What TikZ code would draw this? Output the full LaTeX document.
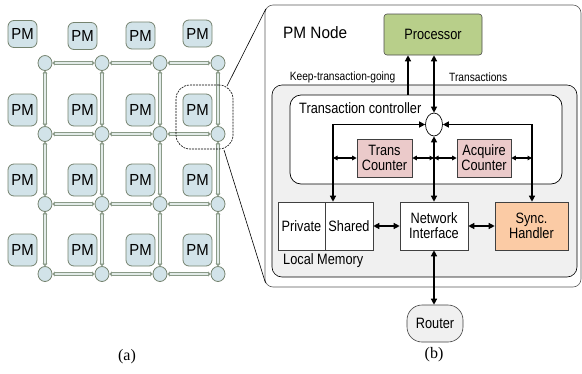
\documentclass[tikz,border=0pt]{standalone}
\usepackage{fontspec}
\setmainfont{Liberation Sans}
\newfontfamily\capfont{Liberation Serif}
\newfontfamily\condfont{Liberation Sans}[FakeStretch=0.85]
\newfontfamily\pmfont{Liberation Sans}[FakeStretch=0.93]
\usetikzlibrary{arrows.meta,shapes.geometric}
\definecolor{pmfill}{HTML}{D2E3E9}
\definecolor{pmdraw}{HTML}{75836F}
\definecolor{linkgray}{HTML}{8A9A88}
\definecolor{linkfill}{HTML}{E2EBE8}
\definecolor{procfill}{HTML}{B8CF8A}
\definecolor{cntfill}{HTML}{EBCACA}
\definecolor{syncfill}{HTML}{FBCBA5}
\definecolor{memgray}{HTML}{F0F0F0}
\begin{document}
\begin{tikzpicture}[x=1pt,y=-1pt,
  txt/.style={font=\condfont\fontsize{15}{15}\selectfont},
  pm/.style={draw=pmdraw,fill=pmfill,rounded corners=6pt,minimum width=29pt,minimum height=32pt,inner sep=0pt,font=\pmfont\fontsize{16}{16}\selectfont,line width=0.8pt},
  rtr/.style={ellipse,draw=pmdraw,fill=pmfill,minimum width=14pt,minimum height=15pt,inner sep=0pt,line width=0.8pt},
  link/.style={draw=linkgray,double=linkfill,double distance=1.8pt,line width=0.9pt,
    {Triangle[length=2.5pt,width=5pt]}-{Triangle[length=2.5pt,width=5pt]}},
  blk/.style={draw=black!75,rectangle,inner sep=0pt,align=center,txt,line width=0.6pt},
  arr/.style={line width=1.3pt,-{Triangle[length=6pt,width=6pt]}},
  darr/.style={line width=1.3pt,{Triangle[length=6pt,width=6pt]}-{Triangle[length=6pt,width=6pt]}},
  sarr/.style={line width=1.1pt,{Triangle[length=4.5pt,width=4.5pt]}-{Triangle[length=4.5pt,width=4.5pt]}},
  lab/.style={inner sep=0pt,font=\condfont\fontsize{12}{12}\selectfont}
]
\useasboundingbox (0,0) rectangle (582,373);

% ---------- (a) mesh ----------
\foreach \x [count=\i] in {45,102,160,218}
  \foreach \y [count=\j] in {63,134,204,274}
    \node[rtr] (r\i\j) at (\x,\y) {};
\foreach \i/\ii in {1/2,2/3,3/4}
  \foreach \j in {1,2,3,4}
    \draw[link] (r\i\j) -- (r\ii\j);
\foreach \i in {1,2,3,4}
  \foreach \j/\jj in {1/2,2/3,3/4}
    \draw[link] (r\i\j) -- (r\i\jj);

\node[pm,minimum height=27pt] (p11) at (22.5,34) {PM};
\node[pm,minimum height=27pt] (p21) at (82.5,36) {PM};
\node[pm,minimum height=27pt] (p31) at (140.5,35.5) {PM};
\node[pm,minimum height=27pt] (p41) at (197.5,33.5) {PM};
\foreach \x [count=\i] in {22.5,82.5,140.5,197.5}
  \foreach \y [count=\j from 2] in {110,180,250}
    \node[pm] (p\i\j) at (\x,\y) {PM};

\node[draw=black,dash pattern=on 2pt off 1pt,rounded corners=14pt,minimum width=57pt,minimum height=64pt,line width=0.6pt] (hl) at (204.5,117) {};
\node[font=\capfont\fontsize{16}{16}\selectfont,inner sep=0pt] (capa) at (127,357) {(a)};

% ---------- (b) PM node ----------
\node[draw=black!65,rounded corners=8pt,minimum width=316pt,minimum height=282pt,line width=0.6pt] (big) at (423,146) {};
\coordinate (hlA) at (227,86);
\coordinate (hlB) at (224,150);
\coordinate (bigA) at (265.8,9);
\coordinate (bigB) at (265.5,283);
\draw[line width=0.6pt] (hlA) -- (bigA);
\draw[line width=0.6pt] (hlB) -- (bigB);

\node[inner sep=0pt,anchor=west,font=\pmfont\fontsize{16.5}{17}\selectfont] (pmn) at (283,33) {PM Node};
\node[blk,fill=procfill,rounded corners=3pt,minimum width=98pt,minimum height=41pt,draw=black!70] (proc) at (433,34.5) {Processor};

\node[draw=black,fill=memgray,rounded corners=10pt,minimum width=305pt,minimum height=192pt,line width=0.6pt] (mem) at (424.5,181) {};
\node[draw=black,fill=white,rounded corners=11pt,minimum width=272pt,minimum height=89pt,line width=0.7pt] (tc) at (426,139.5) {};
\node[inner sep=0pt,anchor=west,txt] (tcl) at (299,108) {Transaction controller};
\node[inner sep=0pt,anchor=west,txt] (lml) at (283,261) {Local Memory};

\node[lab,anchor=east] (klab) at (395.5,77) {Keep-transaction-going};
\node[lab,anchor=west] (tlab) at (449,77) {Transactions};

\node[ellipse,draw=black,fill=white,minimum width=17pt,minimum height=23pt,inner sep=0pt,line width=0.7pt] (hub) at (434,124.5) {};

\node[blk,fill=cntfill,minimum width=55pt,minimum height=38pt] (trans) at (384.5,158) {Trans\\Counter};
\node[blk,fill=cntfill,minimum width=54pt,minimum height=38pt] (acq) at (484,158) {Acquire\\Counter};

\node[blk,fill=white,minimum width=47pt,minimum height=48pt] (priv) at (301.5,226) {Private};
\node[blk,fill=white,minimum width=48pt,minimum height=48pt] (shared) at (349,226) {Shared};
\node[blk,fill=white,minimum width=68pt,minimum height=48pt] (ni) at (434,226) {Network\\Interface};
\node[blk,fill=syncfill,minimum width=73pt,minimum height=48pt] (sync) at (531.5,226) {Sync.\\Handler};
\node[blk,fill=memgray,rounded corners=15pt,minimum width=56pt,minimum height=37pt] (router) at (435,323.5) {Router};

\coordinate (kx) at (408,0);
\coordinate (lc) at (333,124.5);
\coordinate (rc) at (532,124.5);
\coordinate (lm) at (333,158);
\coordinate (cm) at (434,158);
\coordinate (rm) at (532,158);

\draw[arr] (tc.north -| kx) -- (proc.south -| kx);
\draw[darr] (proc.south -| hub.north) -- (hub.north);
\draw[arr] (lc) -- (hub.west);
\draw[arr] (lc) -- (lc |- shared.north);
\draw[arr] (rc) -- (hub.east);
\draw[arr] (rc) -- (rc |- sync.north);
\draw[line width=1.3pt] ([xshift=-0.65pt]lc) -- ([xshift=0.6pt]lc);
\draw[line width=1.3pt] ([xshift=-0.6pt]rc) -- ([xshift=0.65pt]rc);
\draw[darr] (hub.south) -- (ni.north);
\draw[sarr] (lm) -- (trans.west);
\draw[sarr] (trans.east) -- (cm);
\draw[sarr] (cm) -- (acq.west);
\draw[sarr] (acq.east) -- (rm);
\draw[darr] (shared.east) -- (ni.west);
\draw[darr] (ni.east) -- (sync.west);
\draw[darr] (ni.south) -- (router.north -| ni.south);

\node[font=\capfont\fontsize{16}{16}\selectfont,inner sep=0pt] (capb) at (434,355) {(b)};
\end{tikzpicture}
\end{document}
